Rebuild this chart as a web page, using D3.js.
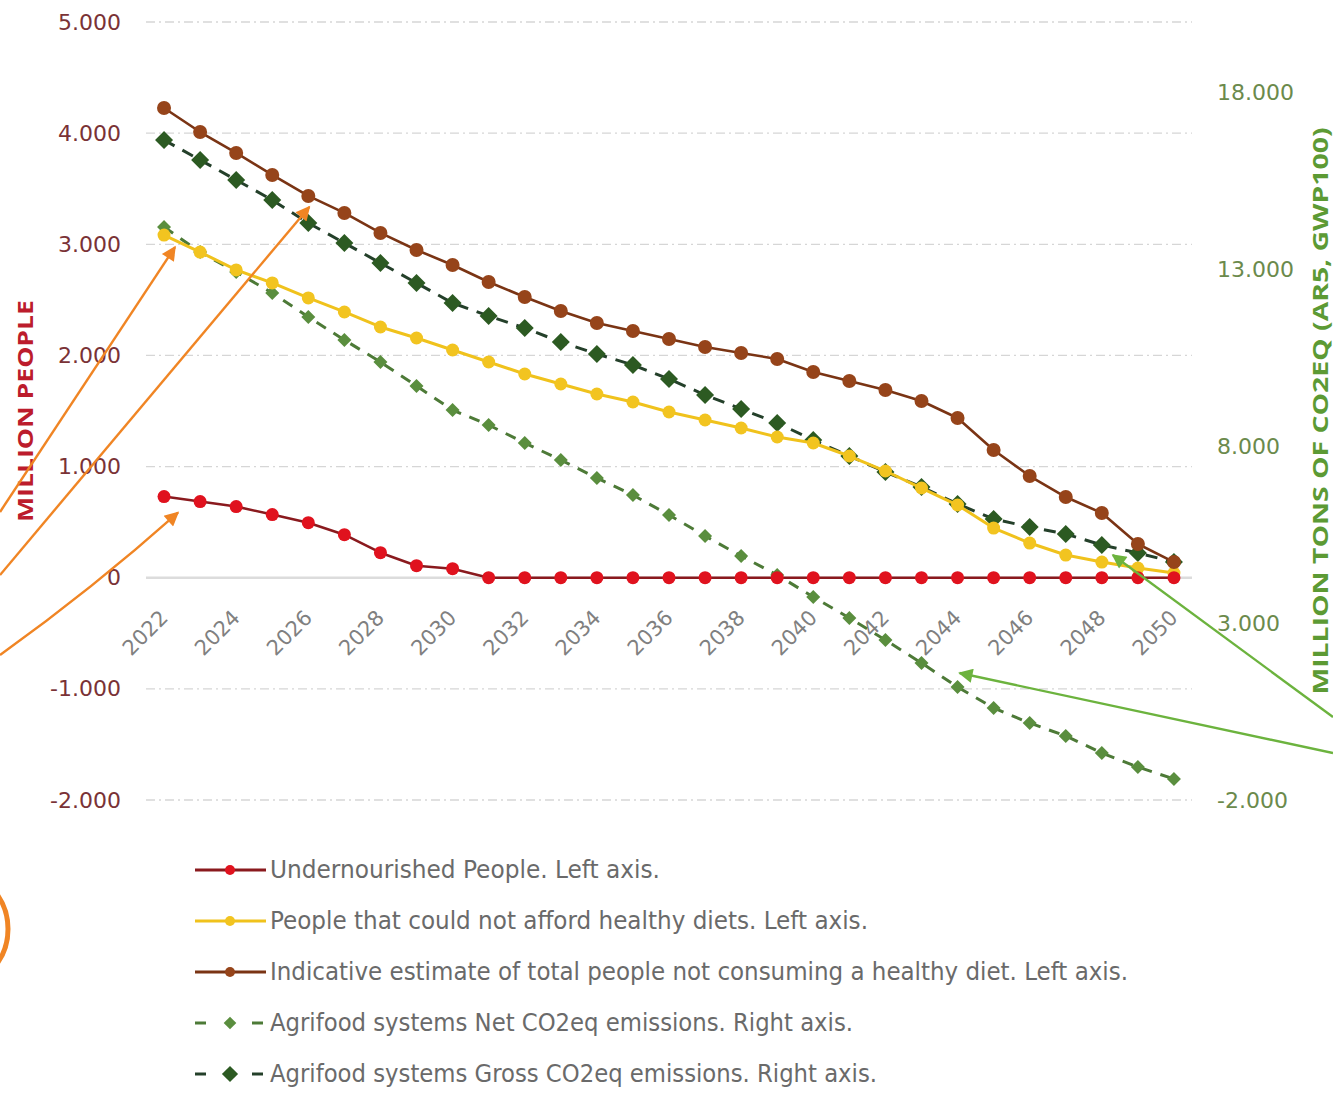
<!DOCTYPE html>
<html>
<head>
<meta charset="utf-8">
<script src="https://cdn.jsdelivr.net/npm/d3@7"></script>
<style>
  html, body { margin: 0; padding: 0; background: #ffffff; }
  svg { display: block; }
</style>
</head>
<body>
<svg id="chart" width="1333" height="1095"></svg>
<script>
// ---- Data -------------------------------------------------------------
const years = [2022, 2023, 2024, 2025, 2026, 2027, 2028, 2029, 2030, 2031,
               2032, 2033, 2034, 2035, 2036, 2037, 2038, 2039, 2040, 2041,
               2042, 2043, 2044, 2045, 2046, 2047, 2048, 2049, 2050];

// Million people (left axis)
const undernourished = [730, 685, 640, 568, 495, 387, 225, 108, 81, 0,
                        0, 0, 0, 0, 0, 0, 0, 0, 0, 0,
                        0, 0, 0, 0, 0, 0, 0, 0, 0];
const cannotAfford = [3083, 2930, 2769, 2652, 2517, 2391, 2256, 2157, 2049, 1941,
                      1833, 1743, 1653, 1581, 1491, 1419, 1347, 1266, 1212, 1095,
                      960, 807, 654, 447, 312, 204, 141, 87, 42];
const notHealthyDiet = [4226, 4010, 3822, 3624, 3435, 3282, 3102, 2949, 2814, 2661,
                        2526, 2400, 2292, 2220, 2148, 2076, 2022, 1968, 1851, 1770,
                        1689, 1590, 1437, 1149, 915, 726, 582, 303, 141];

// Million tons CO2eq (right axis)
const netEmissions = [14203, 13496, 12931, 12337, 11658, 11008, 10386, 9707, 9028, 8604,
                      8095, 7615, 7106, 6625, 6059, 5466, 4900, 4363, 3741, 3147,
                      2524, 1874, 1195, 602, 177, -190, -671, -1067, -1406];
const grossEmissions = [16663, 16098, 15532, 14967, 14316, 13751, 13185, 12620, 12054, 11687,
                        11347, 10951, 10612, 10301, 9905, 9453, 9057, 8661, 8180, 7728,
                        7275, 6851, 6370, 5946, 5720, 5522, 5211, 4985, 4730];

// Axis ticks
const leftTicks = [-2000, -1000, 0, 1000, 2000, 3000, 4000, 5000];
const rightTicks = [-2000, 3000, 8000, 13000, 18000];
const xTickLabels = [2022, 2024, 2026, 2028, 2030, 2032, 2034, 2036, 2038, 2040,
                     2042, 2044, 2046, 2048, 2050];

const leftTitle = "MILLION PEOPLE";
const rightTitle = "MILLION TONS OF CO2EQ (AR5, GWP100)";

const legendLabels = [
  "Undernourished People. Left axis.",
  "People that could not afford healthy diets. Left axis.",
  "Indicative estimate of total people not consuming a healthy diet. Left axis.",
  "Agrifood systems Net CO2eq emissions. Right axis.",
  "Agrifood systems Gross CO2eq emissions. Right axis."
];

// ---- Setup --------------------------------------------------------------
const svg = d3.select("#chart");
const plotLeft = 146, plotRight = 1192, plotTop = 22, plotBottom = 800;

const x = d3.scalePoint().domain(years).range([plotLeft, plotRight]).padding(0.5);
const yL = d3.scaleLinear().domain([-2000, 5000]).range([plotBottom, plotTop]);
const yR = d3.scaleLinear().domain([-2000, 20000]).range([plotBottom, plotTop]);

const locale = d3.formatLocale({ decimal: ",", thousands: ".", grouping: [3], currency: ["", ""], minus: "-" });
const fmt = locale.format(",");

const tickFont = "DejaVu Sans, Verdana, sans-serif";

// ---- Gridlines ----------------------------------------------------------
const grid = svg.append("g");
grid.selectAll("line.grid")
  .data(leftTicks.filter(d => d !== 0))
  .join("line")
  .attr("x1", plotLeft).attr("x2", plotRight)
  .attr("y1", d => yL(d)).attr("y2", d => yL(d))
  .attr("stroke", "#d6d6d6").attr("stroke-width", 1.3)
  .attr("stroke-dasharray", "9,4,2,4");
// Category axis on zero
grid.append("line")
  .attr("x1", plotLeft).attr("x2", plotRight)
  .attr("y1", yL(0)).attr("y2", yL(0))
  .attr("stroke", "#dcdcdc").attr("stroke-width", 2.5);

// ---- Axes ---------------------------------------------------------------
const leftAxis = d3.axisLeft(yL).tickValues(leftTicks).tickFormat(fmt).tickSize(0).tickPadding(0);
const gL = svg.append("g").attr("transform", "translate(121,0)").call(leftAxis);
gL.select(".domain").remove();
gL.selectAll("text")
  .attr("fill", "#7a3236").attr("font-family", tickFont).attr("font-size", 22);

const rightAxis = d3.axisRight(yR).tickValues(rightTicks).tickFormat(fmt).tickSize(0).tickPadding(0);
const gR = svg.append("g").attr("transform", "translate(1217,0)").call(rightAxis);
gR.select(".domain").remove();
gR.selectAll("text")
  .attr("fill", "#6b8a4c").attr("font-family", tickFont).attr("font-size", 22);

// X labels, rotated
svg.append("g").selectAll("text")
  .data(xTickLabels)
  .join("text")
  .attr("transform", d => `translate(${x(d) - 19},${yL(0) + 55}) rotate(-45)`)
  .attr("text-anchor", "middle")
  .attr("dy", "0.35em")
  .attr("fill", "#808080")
  .attr("font-family", tickFont)
  .attr("font-size", 21)
  .text(d => d);

// Axis titles
svg.append("text")
  .attr("transform", `translate(33,${411}) rotate(-90)`)
  .attr("text-anchor", "middle")
  .attr("fill", "#bc1c2c")
  .attr("font-family", "Open Sans, DejaVu Sans, sans-serif")
  .attr("font-weight", "bold")
  .attr("font-size", 22)
  .attr("textLength", 222).attr("lengthAdjust", "spacingAndGlyphs")
  .text(leftTitle);

svg.append("text")
  .attr("transform", `translate(1328,${411}) rotate(-90)`)
  .attr("text-anchor", "middle")
  .attr("fill", "#5c9a34")
  .attr("font-family", "Open Sans, DejaVu Sans, sans-serif")
  .attr("font-weight", "bold")
  .attr("font-size", 22)
  .attr("textLength", 567).attr("lengthAdjust", "spacingAndGlyphs")
  .text(rightTitle);

// ---- Series -------------------------------------------------------------
const diamond = r => `M0,${-r}L${r},0L0,${r}L${-r},0Z`;

const series = [
  { key: "net", values: netEmissions, y: yR, line: "#4d7a37", width: 3, dash: "11,9",
    marker: "diamond", fill: "#5a8e3e", r: 7 },
  { key: "gross", values: grossEmissions, y: yR, line: "#24402a", width: 3, dash: "12,9",
    marker: "diamond", fill: "#2c5a22", r: 9 },
  { key: "afford", values: cannotAfford, y: yL, line: "#f0c21c", width: 3, dash: null,
    marker: "circle", fill: "#f2c420", r: 6.5 },
  { key: "diet", values: notHealthyDiet, y: yL, line: "#7a3414", width: 2.6, dash: null,
    marker: "circle", fill: "#96441a", r: 7 },
  { key: "under", values: undernourished, y: yL, line: "#8a1a1e", width: 2.6, dash: null,
    marker: "circle", fill: "#e0121e", r: 6.5 }
];

series.forEach(s => {
  const pts = years.map((yr, i) => ({ yr, v: s.values[i] }));
  const g = svg.append("g").attr("class", "series-" + s.key);
  const line = d3.line().x(d => x(d.yr)).y(d => s.y(d.v));
  g.append("path")
    .datum(pts)
    .attr("d", line)
    .attr("fill", "none")
    .attr("stroke", s.line)
    .attr("stroke-width", s.width)
    .attr("stroke-dasharray", s.dash)
    .attr("stroke-linejoin", "round");
  if (s.marker === "circle") {
    g.selectAll("circle").data(pts).join("circle")
      .attr("cx", d => x(d.yr)).attr("cy", d => s.y(d.v))
      .attr("r", s.r).attr("fill", s.fill);
  } else {
    g.selectAll("path.mk").data(pts).join("path")
      .attr("class", "mk")
      .attr("transform", d => `translate(${x(d.yr)},${s.y(d.v)})`)
      .attr("d", diamond(s.r)).attr("fill", s.fill);
  }
});

// ---- Annotation arrows --------------------------------------------------
const defs = svg.append("defs");
function arrowMarker(id, color) {
  defs.append("marker")
    .attr("id", id).attr("viewBox", "0 0 10 10")
    .attr("refX", 9).attr("refY", 5)
    .attr("markerWidth", 7).attr("markerHeight", 6)
    .attr("markerUnits", "strokeWidth")
    .attr("orient", "auto")
    .append("path").attr("d", "M0,0L10,5L0,10Z").attr("fill", color);
}
arrowMarker("arrow-orange", "#f08524");
arrowMarker("arrow-green", "#6cb33e");

const idx = yr => years.indexOf(yr);
const orangeArrows = [
  { from: [0, 512], to: [x(2022) + 11, yL(cannotAfford[idx(2022)]) + 12] },
  { from: [0, 575], to: [x(2026) + 1, yL(notHealthyDiet[idx(2026)]) + 11] },
  { from: [0, 655], to: [x(2022) + 14, yL(undernourished[idx(2022)]) + 16], bend: 6 }
];
const greenArrows = [
  { from: [1333, 717], to: [x(2048) + 11, yR(grossEmissions[idx(2048)]) + 10] },
  { from: [1333, 753], to: [x(2044) + 2, yR(netEmissions[idx(2044)]) - 14] }
];
function arrowPath(a) {
  const [x0, y0] = a.from, [x1, y1] = a.to;
  if (!a.bend) return `M${x0},${y0}L${x1},${y1}`;
  const mx = (x0 + x1) / 2, my = (y0 + y1) / 2;
  const dx = x1 - x0, dy = y1 - y0, len = Math.hypot(dx, dy);
  const cx = mx + (-dy / len) * a.bend, cy = my + (dx / len) * a.bend;
  return `M${x0},${y0}Q${cx},${cy} ${x1},${y1}`;
}
svg.append("g").selectAll("path").data(orangeArrows).join("path")
  .attr("d", arrowPath).attr("fill", "none")
  .attr("stroke", "#f08524").attr("stroke-width", 2.4)
  .attr("marker-end", "url(#arrow-orange)");
svg.append("g").selectAll("path").data(greenArrows).join("path")
  .attr("d", arrowPath).attr("fill", "none")
  .attr("stroke", "#6cb33e").attr("stroke-width", 2.4)
  .attr("marker-end", "url(#arrow-green)");

// Partial highlight circle at the lower-left edge
svg.append("circle")
  .attr("cx", -52).attr("cy", 929).attr("r", 60)
  .attr("fill", "none").attr("stroke", "#f08524").attr("stroke-width", 5);

// ---- Legend -------------------------------------------------------------
const legendRows = [
  { label: legendLabels[0], s: series[4], width: 390 },
  { label: legendLabels[1], s: series[2], width: 598 },
  { label: legendLabels[2], s: series[3], width: 858 },
  { label: legendLabels[3], s: series[0], width: 583 },
  { label: legendLabels[4], s: series[1], width: 607 }
];
const legendY = d3.scalePoint().domain(d3.range(legendRows.length)).range([870, 1074]);
const lg = svg.append("g");
legendRows.forEach((row, i) => {
  const cy = legendY(i);
  const g = lg.append("g").attr("transform", `translate(0,${cy})`);
  if (row.s.dash) {
    g.append("line").attr("x1", 195).attr("x2", 206).attr("y1", 0).attr("y2", 0)
      .attr("stroke", row.s.line).attr("stroke-width", 3);
    g.append("line").attr("x1", 252).attr("x2", 263).attr("y1", 0).attr("y2", 0)
      .attr("stroke", row.s.line).attr("stroke-width", 3);
    g.append("path").attr("transform", "translate(230,0)")
      .attr("d", diamond(row.s.r * 0.9)).attr("fill", row.s.fill);
  } else {
    g.append("line").attr("x1", 195).attr("x2", 266).attr("y1", 0).attr("y2", 0)
      .attr("stroke", row.s.line).attr("stroke-width", 3);
    g.append("circle").attr("cx", 230).attr("cy", 0).attr("r", 5).attr("fill", row.s.fill);
  }
  g.append("text")
    .attr("x", 270).attr("y", 0).attr("dy", "0.35em")
    .attr("fill", "#6a6a6a")
    .attr("font-family", "Liberation Sans Narrow, DejaVu Sans Condensed, sans-serif")
    .attr("font-size", 24)
    .attr("textLength", row.width).attr("lengthAdjust", "spacingAndGlyphs")
    .text(row.label);
});
</script>
</body>
</html>
